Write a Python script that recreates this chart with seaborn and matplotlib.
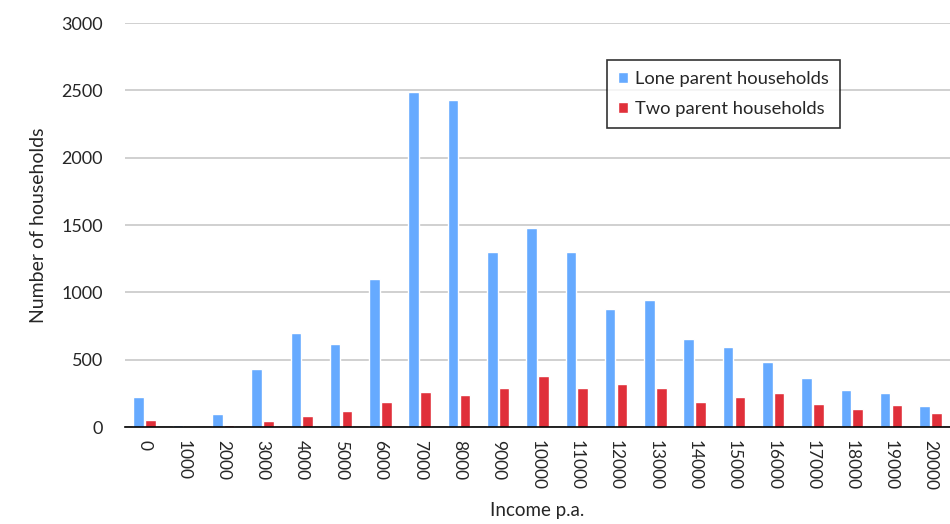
import matplotlib
matplotlib.use("Agg")
import matplotlib.pyplot as plt
import seaborn as sns
import pandas as pd
import numpy as np

categories = [str(v) for v in range(0, 21000, 1000)]
lone = [220, 15, 95, 430, 700, 615, 1100, 2490, 2430, 1300, 1480, 1300, 875, 945, 655, 595, 485, 365, 275, 250, 155]
two = [55, 0, 15, 45, 80, 120, 185, 260, 240, 290, 380, 290, 320, 290, 185, 225, 250, 170, 135, 160, 105]
series = ["Lone parent households", "Two parent households"]
colors = ["#66aaff", "#e0303a"]

df = pd.DataFrame({
    "Income": categories * 2,
    "Count": lone + two,
    "Series": [series[0]] * len(categories) + [series[1]] * len(categories),
})

sns.set_style("white")
plt.rcParams['font.family'] = ['Lato', 'DejaVu Sans']

fig = plt.figure(figsize=(9.5, 5.24), dpi=100)
ax = fig.add_axes([125/950, 97/524, 825/950, 404/524])
sns.barplot(data=df, x="Income", y="Count", hue="Series", palette=colors,
            width=0.6, gap=0.1, ax=ax, saturation=1)

ax.set_ylim(0, 3000)
ax.set_yticks(np.arange(0, 3001, 500))
ax.set_xlim(-0.5, len(categories) - 0.5)
ax.yaxis.grid(True, color="#c8c8c8", linewidth=1.2)
ax.set_axisbelow(True)
for s in ["left", "right", "top"]:
    ax.spines[s].set_visible(False)
ax.spines["bottom"].set_color("black")
ax.spines["bottom"].set_linewidth(1.2)

ax.tick_params(axis="x", which="major", length=0, labelrotation=-90, labelsize=12.5, pad=9)
ax.set_xticks(np.arange(-0.5, len(categories), 1), minor=True)
ax.tick_params(axis="x", which="minor", length=6, width=1.2, color="black", direction="out")
ax.tick_params(axis="y", length=0, labelsize=13, pad=16)
for lab in ax.get_xticklabels():
    lab.set_va("top")

ax.set_xlabel("Income p.a.", fontsize=13.5, labelpad=9)
ax.set_ylabel("Number of households", fontsize=14, labelpad=10)

leg = ax.legend(loc="upper left", bbox_to_anchor=((607-125)/825, (427-60)/404),
                frameon=True, fancybox=False, edgecolor="black", fontsize=13.2,
                handlelength=0.55, handleheight=0.55, labelspacing=0.75, borderpad=0.6,
                handletextpad=0.4, borderaxespad=0, title=None)
leg.get_frame().set_linewidth(1.2)

fig.savefig("out.png", dpi=100)
